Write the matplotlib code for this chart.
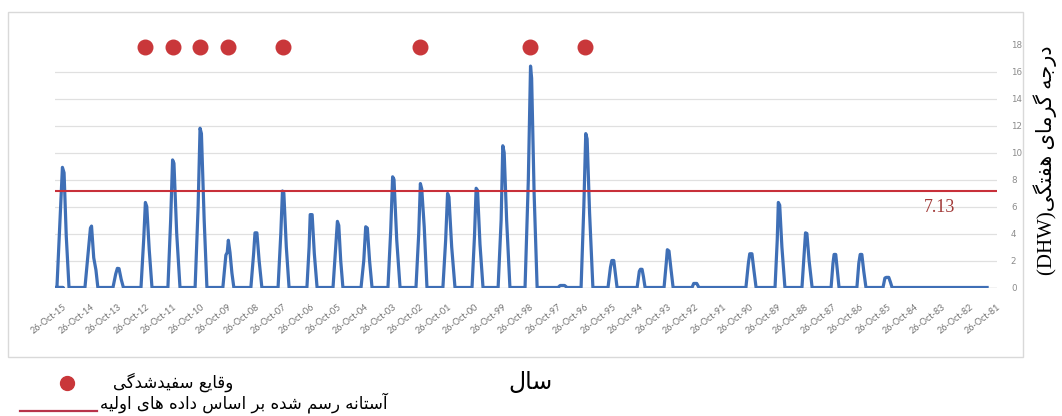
import matplotlib.pyplot as plt
from matplotlib.lines import Line2D
from matplotlib.patches import Rectangle

# x = position along the axis (0 = 26-Oct-15, 1 = 26-Oct-14, ...), y = weekly DHW
weeks = [-0.29, 0,
         -0.22, -0.12, -0.02, 0.04, 0.12, 0.22,
         0.80, 0.92, 1.00, 1.04, 1.12, 1.20, 1.27,
         1.82, 1.92, 1.98, 2.04, 2.12, 2.20,
         2.84, 2.94, 3.00, 3.05, 3.14, 3.24,
         3.82, 3.92, 3.99, 4.04, 4.14, 4.26,
         4.81, 4.92, 4.99, 5.04, 5.14, 5.24,
         5.82, 5.93, 5.98, 6.02, 6.08, 6.15, 6.22,
         6.84, 6.94, 6.99, 7.06, 7.14, 7.24,
         7.83, 7.93, 7.99, 8.04, 8.13, 8.23,
         8.88, 8.96, 9.00, 9.07, 9.15, 9.25,
         9.83, 9.92, 9.99, 10.04, 10.11, 10.19,
         10.85, 10.95, 11.02, 11.08, 11.16, 11.25,
         11.83, 11.93, 12.00, 12.05, 12.15, 12.27,
         12.85, 12.95, 13.01, 13.06, 13.15, 13.25,
         13.83, 13.93, 14.00, 14.05, 14.15, 14.27,
         14.89, 14.98, 15.04, 15.09, 15.18, 15.29,
         15.84, 15.95, 16.01, 16.06, 16.15, 16.27,
         16.82, 16.94, 17.02, 17.06, 17.15, 17.26,
         18.02, 18.10, 18.26, 18.35,
         18.86, 18.96, 19.03, 19.08, 19.17, 19.29,
         19.84, 19.93, 19.98, 20.05, 20.11, 20.17,
         20.90, 20.98, 21.02, 21.08, 21.13, 21.19,
         21.88, 21.96, 22.00, 22.06, 22.13, 22.21,
         22.90, 22.96, 23.07, 23.15,
         24.86, 24.95, 25.00, 25.08, 25.15, 25.23,
         25.92, 26.00, 26.04, 26.09, 26.17, 26.28,
         26.90, 26.98, 27.03, 27.08, 27.16, 27.27,
         27.96, 28.03, 28.07, 28.13, 28.19, 28.25,
         28.90, 28.97, 29.02, 29.08, 29.15, 29.23,
         29.85, 29.92, 29.97, 30.06, 30.12, 30.18,
         33.64]
dhw = [0, 0,
       0, 4.4, 8.9, 8.5, 3.8, 0,
       0, 2.6, 4.4, 4.55, 2.2, 1.3, 0,
       0, 1.0, 1.42, 1.4, 0.6, 0,
       0, 3.6, 6.3, 6.0, 2.8, 0,
       0, 5.0, 9.45, 9.2, 4.0, 0,
       0, 6.0, 11.8, 11.4, 5.0, 0,
       0, 2.4, 2.6, 3.5, 2.6, 1.07, 0,
       0, 2.5, 4.05, 4.05, 2.0, 0,
       0, 4.0, 7.15, 7.0, 3.0, 0,
       0, 3.0, 5.4, 5.4, 2.5, 0,
       0, 2.8, 4.9, 4.6, 2.0, 0,
       0, 2.0, 4.5, 4.4, 2.0, 0,
       0, 4.2, 8.2, 8.0, 3.5, 0,
       0, 4.0, 7.7, 7.3, 4.5, 0,
       0, 3.5, 6.97, 6.7, 3.0, 0,
       0, 3.8, 7.35, 7.2, 3.2, 0,
       0, 5.0, 10.5, 10.0, 5.0, 0,
       0, 8.0, 16.4, 15.5, 7.0, 0,
       0, 0.15, 0.15, 0,
       0, 6.0, 11.4, 11.0, 5.5, 0,
       0, 1.5, 2.0, 2.0, 1.0, 0,
       0, 1.2, 1.35, 1.35, 0.8, 0,
       0, 1.8, 2.8, 2.7, 1.4, 0,
       0, 0.3, 0.3, 0,
       0, 1.8, 2.5, 2.5, 1.3, 0,
       0, 3.5, 6.3, 6.1, 3.0, 0,
       0, 2.5, 4.05, 4.0, 2.0, 0,
       0, 1.8, 2.45, 2.45, 1.2, 0,
       0, 1.8, 2.45, 2.45, 1.2, 0,
       0, 0.7, 0.75, 0.75, 0.4, 0,
       0]

years = ['15', '14', '13', '12', '11', '10', '09', '08', '07', '06', '05', '04',
         '03', '02', '01', '00', '99', '98', '97', '96', '95', '94', '93', '92',
         '91', '90', '89', '88', '87', '86', '85', '84', '83', '82', '81']
tick_labels = ['26-Oct-' + y for y in years]

bleaching_pos = [3, 4, 5, 6, 8, 13, 17, 19]
bleaching_level = [17.8] * len(bleaching_pos)
threshold = 7.13

# matplotlib has no Arabic shaping, so pick presentation forms by hand
# (isolated, final, initial, medial); 2 forms = letter never joins forward
FORMS = {
    '\u0627': '\uFE8D\uFE8E',                  # alef
    '\u0622': '\uFE81\uFE82',                  # alef madda
    '\u0628': '\uFE8F\uFE90\uFE91\uFE92',      # beh
    '\u062A': '\uFE95\uFE96\uFE97\uFE98',      # teh
    '\u062C': '\uFE9D\uFE9E\uFE9F\uFEA0',      # jeem
    '\u062F': '\uFEA9\uFEAA',                  # dal
    '\u0631': '\uFEAD\uFEAE',                  # reh
    '\u0633': '\uFEB1\uFEB2\uFEB3\uFEB4',      # seen
    '\u0634': '\uFEB5\uFEB6\uFEB7\uFEB8',      # sheen
    '\u0639': '\uFEC9\uFECA\uFECB\uFECC',      # ain
    '\u0641': '\uFED1\uFED2\uFED3\uFED4',      # feh
    '\u0642': '\uFED5\uFED6\uFED7\uFED8',      # qaf
    '\u0644': '\uFEDD\uFEDE\uFEDF\uFEE0',      # lam
    '\u0645': '\uFEE1\uFEE2\uFEE3\uFEE4',      # meem
    '\u0646': '\uFEE5\uFEE6\uFEE7\uFEE8',      # noon
    '\u0647': '\uFEE9\uFEEA\uFEEB\uFEEC',      # heh
    '\u0648': '\uFEED\uFEEE',                  # waw
    '\u06CC': '\uFBFC\uFBFD\uFBFE\uFBFF',      # farsi yeh
    '\u06AF': '\uFB92\uFB93\uFB94\uFB95',      # gaf
}


def shape(text):
    out = []
    for i, ch in enumerate(text):
        forms = FORMS.get(ch)
        if forms is None:
            out.append(ch)
            continue
        prev = text[i - 1] if i > 0 else ''
        nxt = text[i + 1] if i + 1 < len(text) else ''
        join_prev = prev in FORMS and len(FORMS[prev]) == 4
        join_next = len(forms) == 4 and nxt in FORMS
        out.append(forms[[[0, 2], [1, 3]][join_prev][join_next]])
    return ''.join(reversed(out))


fig = plt.figure(figsize=(10.62, 4.16), dpi=100)
fig.patches.append(Rectangle((8 / 1062, 1 - 357 / 416), 1015 / 1062, 345 / 416,
                             transform=fig.transFigure, fill=False,
                             edgecolor='#d9d9d9', linewidth=1))
ax = fig.add_axes([55 / 1062, 1 - 287.5 / 416, 942 / 1062, 243 / 416])

for level in range(2, 17, 2):
    ax.axhline(level, color='#e0e0e0', linewidth=0.9, zorder=0)
ax.axhline(0, color='#a6a6a6', linewidth=0.9, zorder=1)

ax.plot(weeks, dhw, color='#3f6fb6', linewidth=2.3, solid_joinstyle='round', zorder=3)
ax.axhline(threshold, color='#c8303a', linewidth=1.5, zorder=4)
ax.text(31.9, 5.9, f'{threshold:.2f}', color='#a23a38', fontsize=13,
        family='Liberation Serif', ha='center', va='center')
ax.scatter(bleaching_pos, bleaching_level, s=110, color='#c9373a',
           zorder=5, clip_on=False)

ax.set_xlim(-0.29, 34)
ax.set_ylim(0, 18)
ax.set_xticks(range(len(tick_labels)))
ax.set_xticklabels(tick_labels, rotation=38, ha='right', rotation_mode='anchor',
                   fontsize=6.5, color='#737373', family='Lato')
ax.set_yticks(range(0, 19, 2))
ax.yaxis.tick_right()
ax.tick_params(axis='y', length=0, pad=10, labelsize=6.3, labelcolor='#8c8c8c')
ax.tick_params(axis='x', length=0, pad=11)
for s in ax.spines.values():
    s.set_visible(False)

arabic = ['Liberation Serif', 'DejaVu Sans']
fig.text(1045 / 1062, 1 - 160 / 416, '(DHW)' + shape('درجه گرمای هفتگی'),
         rotation=90, ha='center', va='center', fontsize=15, family=arabic)
fig.text(531 / 1062, 1 - 382 / 416, shape('سال'), ha='center', va='center',
         fontsize=17, family='DejaVu Sans')

# legend drawn by hand
fig.add_artist(Line2D([67 / 1062], [1 - 383 / 416], marker='o', markersize=10,
                      color='#c9373a', linestyle='none'))
fig.text(113 / 1062, 1 - 382 / 416, shape('وقایع سفیدشدگی'), ha='left',
         va='center', fontsize=12, family='DejaVu Sans')
fig.add_artist(Line2D([20 / 1062, 97 / 1062], [1 - 411 / 416, 1 - 411 / 416],
                      color='#b8334a', linewidth=1.6))
fig.text(100 / 1062, 1 - 403 / 416, shape('آستانه رسم شده بر اساس داده های اولیه'),
         ha='left', va='center', fontsize=12, family='DejaVu Sans')

fig.savefig('out.png', dpi=100)
